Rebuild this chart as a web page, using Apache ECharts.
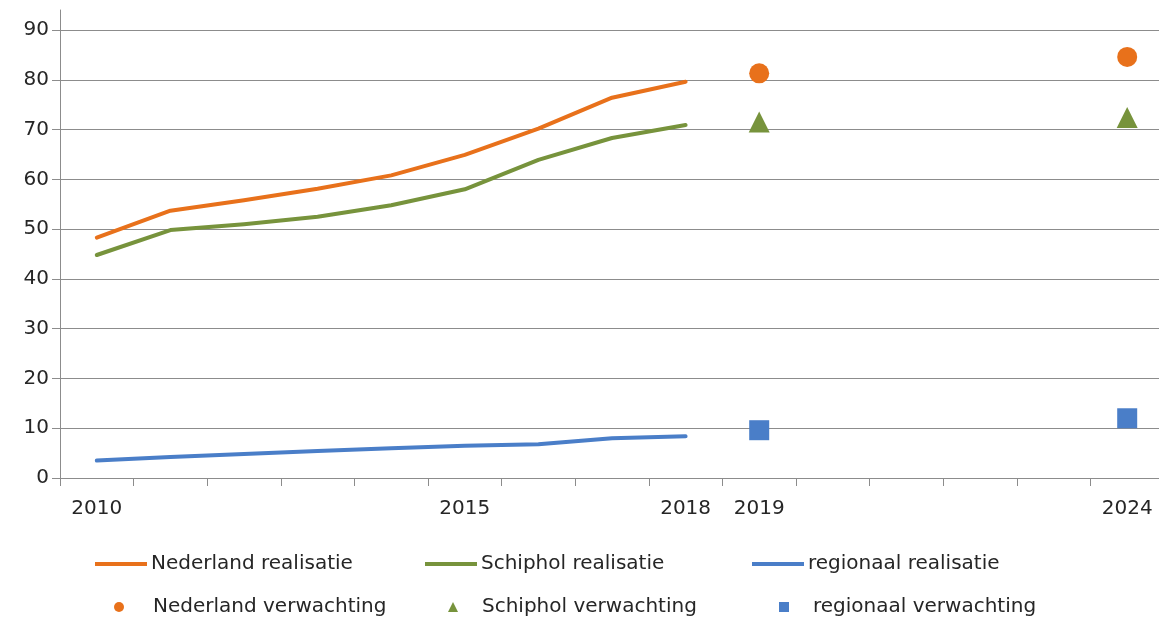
<!DOCTYPE html>
<html><head><meta charset="utf-8">
<script src="https://cdn.jsdelivr.net/npm/echarts@6/dist/echarts.min.js"></script>
<style>html,body{margin:0;padding:0;background:#fff;overflow:hidden;width:1159px;height:620px}#c{width:1164px;height:620px}</style>
</head><body><div id="c"></div>
<script>
const categories = ['2010','2011','2012','2013','2014','2015','2016','2017','2018','2019','2020','2021','2022','2023','2024'];
const shownLabels = ['2010','2015','2018','2019','2024'];
const yTicks = [0,10,20,30,40,50,60,70,80,90];
const nlReal = [48.3,53.7,55.8,58.1,60.8,64.9,70.2,76.4,79.6,null,null,null,null,null,null];
const schReal = [44.8,49.8,51.0,52.5,54.8,58.0,63.9,68.3,70.9,null,null,null,null,null,null];
const regReal = [3.5,4.2,4.8,5.4,6.0,6.5,6.8,8.0,8.4,null,null,null,null,null,null];
const nlFc = [null,null,null,null,null,null,null,null,null,81.3,null,null,null,null,84.6];
const schFc = [null,null,null,null,null,null,null,null,null,71.5,null,null,null,null,72.4];
const regFc = [null,null,null,null,null,null,null,null,null,9.6,null,null,null,null,12.0];

const ORANGE='#E8711B', GREEN='#77933C', BLUE='#4A7EC8';
const FONT='DejaVu Sans', TXT='#262626', GRID='#8c8c8c', FS=20;

const chart = echarts.init(document.getElementById('c'), null, {renderer:'canvas'});
function lineLegend(name, left, top){
  return {data:[{name:name, icon:'rect'}], left:left, top:top, orient:'horizontal', padding:0,
    itemWidth:52, itemHeight:4, itemGap:0,
    textStyle:{fontFamily:FONT, fontSize:FS, color:TXT, padding:[0,0,0,-1]},
    selectedMode:false};
}
function markLegend(name, icon, left, top, textPad){
  return {data:[{name:name, icon:icon}], left:left, top:top, orient:'horizontal', padding:0,
    itemWidth:10, itemHeight:10, itemGap:0, symbolKeepAspect:true,
    textStyle:{fontFamily:FONT, fontSize:FS, color:TXT, padding:[0,0,0,textPad]},
    selectedMode:false};
}
chart.setOption({
  animation:false,
  grid:[{left:60,right:0,top:30,bottom:142},{left:60,right:0,top:10,bottom:142}],
  xAxis:[{type:'category', gridIndex:0, data:categories, boundaryGap:true,
    axisLine:{lineStyle:{color:GRID,width:1}},
    axisTick:{show:true, length:8, lineStyle:{color:GRID}},
    axisLabel:{interval:0, margin:21, fontFamily:FONT, fontSize:FS, color:TXT,
      formatter:v=> shownLabels.includes(v)?v:''}},
    {type:'category', gridIndex:1, data:categories, show:false}],
  yAxis:[{type:'value', gridIndex:0, min:yTicks[0], max:yTicks[yTicks.length-1], interval:10,
    axisLine:{show:true, lineStyle:{color:GRID}},
    axisTick:{show:true, length:8, lineStyle:{color:GRID}},
    splitLine:{lineStyle:{color:GRID,width:1}},
    axisLabel:{margin:11, fontFamily:FONT, fontSize:FS, color:TXT}},
    {type:'value', gridIndex:1, min:0, max:1,
    axisLine:{show:true, lineStyle:{color:GRID}}, axisTick:{show:false},
    axisLabel:{show:false}, splitLine:{show:false}}],
  legend:[
    lineLegend('Nederland realisatie',95,554),
    lineLegend('Schiphol realisatie',425,554),
    lineLegend('regionaal realisatie',752,554),
    markLegend('Nederland verwachting','circle',114,597,24),
    markLegend('Schiphol verwachting','triangle',448,597,19),
    markLegend('regionaal verwachting','rect',779,597,19)
  ],
  series:[
    {name:'Nederland realisatie', type:'line', data:nlReal, symbol:'none', color:ORANGE, lineStyle:{width:4,color:ORANGE,join:'round',cap:'round'}},
    {name:'Schiphol realisatie', type:'line', data:schReal, symbol:'none', color:GREEN, lineStyle:{width:4,color:GREEN,join:'round',cap:'round'}},
    {name:'regionaal realisatie', type:'line', data:regReal, symbol:'none', color:BLUE, lineStyle:{width:4,color:BLUE,join:'round',cap:'round'}},
    {name:'Nederland verwachting', type:'scatter', data:nlFc, symbol:'circle', symbolSize:20, itemStyle:{color:ORANGE, opacity:1}},
    {name:'Schiphol verwachting', type:'scatter', data:schFc, symbol:'triangle', symbolSize:21, itemStyle:{color:GREEN, opacity:1}},
    {name:'regionaal verwachting', type:'scatter', data:regFc, symbol:'rect', symbolSize:20, itemStyle:{color:BLUE, opacity:1}}
  ]
});
</script></body></html>
